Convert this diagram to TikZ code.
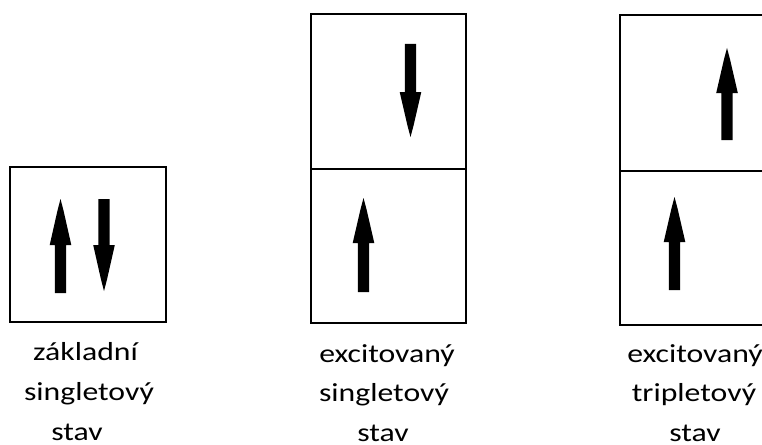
\documentclass[tikz,border=0pt]{standalone}
\usepackage{fontspec}
\setmainfont{Carlito}[FakeStretch=1.22]
\newcommand\spinarrow[4]{% cx, tail, head base, tip
  \fill[spin] ({#1-5.6},#2) -- ({#1+5.6},#2) -- ({#1+5.6},#3) -- ({#1+10.8},#3)
    -- ({#1+3},{#4+0.25*(#3-#4)}) -- (#1,#4) -- ({#1-3},{#4+0.25*(#3-#4)})
    -- ({#1-10.8},#3) -- ({#1-5.6},#3) -- cycle;}
\tikzset{
  spin/.style={fill=black},
  box/.style={draw=black, line width=1.3pt},
  lbl/.style={anchor=base, inner sep=0pt, text=black, font=\fontsize{26}{30}\selectfont}
}
\begin{document}
\begin{tikzpicture}[x=1pt,y=-1pt]
\useasboundingbox (0,0) rectangle (762,444);
\clip (0,0) rectangle (762,444);
\fill[white] (0,0) rectangle (762,444);
% box 1
\draw[box] (10,167) rectangle (166,322);
\spinarrow{60.5}{293}{245}{199}
\spinarrow{104}{199}{245}{291}
% box 2
\draw[box] (311,14) rectangle (466,323);
\draw[box] (311,169) -- (466,169);
\spinarrow{410.5}{44}{92}{137}
\spinarrow{363.5}{292}{243}{198}
% box 3
\draw[box] (620,15) rectangle (776,325);
\draw[box] (620,171) -- (776,171);
\spinarrow{727}{140}{93}{48}
\spinarrow{674.5}{290}{242}{197}
% labels
\node[lbl] (a1) at (85.5,360) {základní};
\node[lbl] (a2) at (89,400) {singletový};
\node[lbl] (a3) at (77,440) {stav};
\node[lbl] (b1) at (387,362) {excitovaný};
\node[lbl] (b2) at (384,401) {singletový};
\node[lbl] (b3) at (383,441) {stav};
\node[lbl] (c1) at (695,362) {excitovaný};
\node[lbl] (c2) at (694,401) {tripletový};
\node[lbl] (c3) at (695,441) {stav};
\end{tikzpicture}
\end{document}
